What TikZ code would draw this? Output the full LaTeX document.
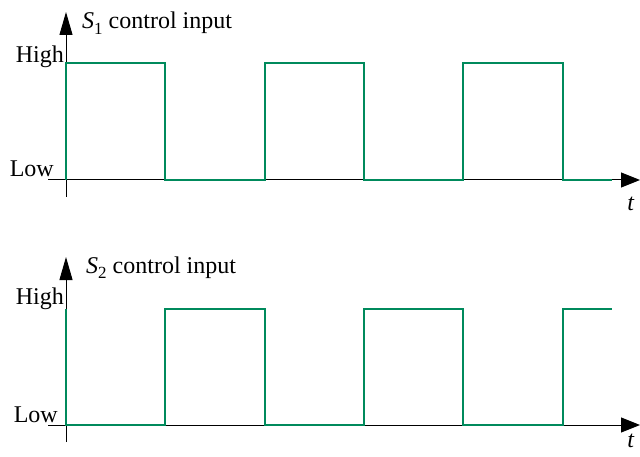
\documentclass[tikz,border=0pt]{standalone}
\usepackage{fontspec}
\setmainfont{Liberation Serif}
\usetikzlibrary{arrows.meta}
\definecolor{sig}{RGB}{0,138,92}
\newcommand{\subone}[1]{\raisebox{-0.22em}{\fontsize{17}{17}\selectfont #1}}
\begin{document}
\begin{tikzpicture}[x=1pt,y=-1pt,
  axis/.style={black,line width=1pt},
  harrow/.style={-{Triangle[length=19pt,width=15pt]}},
  varrow/.style={-{Triangle[length=23pt,width=13pt]}},
  wave/.style={sig,line width=1.6pt,line join=miter},
  lbl/.style={inner sep=0pt,font=\fontsize{24}{28}\selectfont},
  lvl/.style={lbl,anchor=base east}]
\useasboundingbox (0,0) rectangle (640,457);
% ---------- top plot ----------
\coordinate (t1l) at (48,180);
\coordinate (t1r) at (640,180);
\coordinate (t1b) at (66,197);
\coordinate (t1t) at (66,12);
\draw[axis,varrow] (t1b) -- (t1t);
\draw[axis,harrow] (t1l) -- (t1r);
\draw[wave] (66,180) -- (66,63) -- (165,63) -- (165,180) -- (265,180) -- (265,63)
  -- (364,63) -- (364,180) -- (463,180) -- (463,63) -- (563,63) -- (563,180) -- (612,180);
\node[lvl] (h1) at (64,63) {High};
\node[lvl] (l1) at (54,177) {Low};
\node[lbl,anchor=base west] (s1) at (82,29) {\textit{S}\subone{1} control input};
\node[lbl,anchor=base] (x1) at (631,211) {\textit{t}};
% ---------- bottom plot ----------
\coordinate (t2l) at (48,425);
\coordinate (t2r) at (640,425);
\coordinate (t2b) at (66,442);
\coordinate (t2t) at (66,257);
\draw[axis,varrow] (t2b) -- (t2t);
\draw[axis,harrow] (t2l) -- (t2r);
\draw[wave] (66,309) -- (66,425) -- (165,425) -- (165,309) -- (265,309) -- (265,425)
  -- (364,425) -- (364,309) -- (463,309) -- (463,425) -- (563,425) -- (563,309) -- (612,309);
\node[lvl] (h2) at (64,305) {High};
\node[lvl] (l2) at (58,422) {Low};
\node[lbl,anchor=base west] (s2) at (86,273) {\textit{S}\subone{2} control input};
\node[lbl,anchor=base] (x2) at (631,447) {\textit{t}};
\end{tikzpicture}
\end{document}
